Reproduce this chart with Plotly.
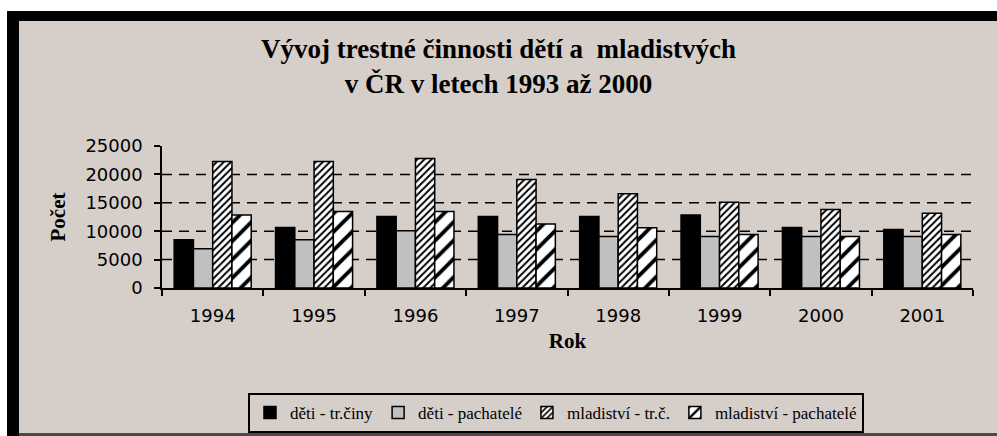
import plotly.graph_objects as go

years = ["1994", "1995", "1996", "1997", "1998", "1999", "2000", "2001"]
deti_trciny = [8500, 10650, 12600, 12600, 12600, 12850, 10650, 10300]
deti_pachatele = [6900, 8500, 10100, 9400, 9050, 9050, 9050, 9050]
mladistvi_trc = [22250, 22250, 22800, 19100, 16600, 15100, 13800, 13150]
mladistvi_pachatele = [12850, 13450, 13450, 11250, 10600, 9400, 9050, 9400]

series_names = ["děti - tr.činy", "děti - pachatelé", "mladiství - tr.č.", "mladiství - pachatelé"]
y_ticks = [0, 5000, 10000, 15000, 20000, 25000]
grid_vals = [5000, 10000, 15000, 20000]

W, H = 997, 436
L, R, T, B = 162, 24, 146, 148
PW, PH = W - L - R, H - T - B


def px(x):
    return (x - L) / PW


def py(y):
    return (H - B - y) / PH


BG = "#D6CEC9"
fig = go.Figure()

fig.add_trace(go.Bar(x=years, y=deti_trciny, name=series_names[0],
                     marker=dict(color="black", line=dict(color="black", width=1.5))))
fig.add_trace(go.Bar(x=years, y=deti_pachatele, name=series_names[1],
                     marker=dict(color="#C0C0C0", line=dict(color="black", width=1.5))))
fig.add_trace(go.Bar(x=years, y=mladistvi_trc, name=series_names[2],
                     marker=dict(color="white", line=dict(color="black", width=1.5),
                                 pattern=dict(shape="/", fgcolor="black", bgcolor="white",
                                              size=5, solidity=0.4, fillmode="replace"))))
fig.add_trace(go.Bar(x=years, y=mladistvi_pachatele, name=series_names[3],
                     marker=dict(color="white", line=dict(color="black", width=1.5),
                                 pattern=dict(shape="/", fgcolor="black", bgcolor="white",
                                              size=13, solidity=0.3, fillmode="replace"))))

shapes = [
    dict(type="rect", xref="paper", yref="paper", x0=px(7), x1=px(1005), y0=py(440), y1=py(11),
         fillcolor="black", line=dict(width=0), layer="below"),
    dict(type="rect", xref="paper", yref="paper", x0=px(19), x1=px(1005), y0=py(433), y1=py(21),
         fillcolor=BG, line=dict(width=0), layer="below"),
    dict(type="rect", xref="paper", yref="paper", x0=px(19), x1=px(1005), y0=py(440), y1=py(433),
         fillcolor="#4a4a4a", line=dict(width=0), layer="below"),
]
for v in grid_vals:
    shapes.append(dict(type="line", xref="paper", yref="y", x0=0, x1=1, y0=v, y1=v,
                       line=dict(color="black", width=1.5, dash="10px,7px"), layer="below"))

fig.update_layout(
    width=W, height=H,
    margin=dict(l=L, r=R, t=T, b=B, autoexpand=False),
    paper_bgcolor="white",
    plot_bgcolor="white",
    barmode="group",
    bargap=0.24,
    bargroupgap=0,
    shapes=shapes,
    title=dict(
        text="Vývoj trestné činnosti dětí a  mladistvých<br>v ČR v letech 1993 až 2000",
        font=dict(family="Liberation Serif", size=27, color="black", weight="bold"),
        x=0.5, xref="container", xanchor="center",
        y=1 - 58 / H, yref="container", yanchor="top",
    ),
    xaxis=dict(
        type="category",
        showline=True, linecolor="black", linewidth=1.5,
        ticks="outside", tickson="boundaries", ticklen=6, tickcolor="black", tickwidth=1.5,
        tickfont=dict(family="DejaVu Sans", size=18, color="black"),
        ticklabelstandoff=11,
        showgrid=False,
        title=dict(text="<b>Rok</b>", font=dict(family="Liberation Serif", size=21, color="black"),
                   standoff=8),
    ),
    yaxis=dict(
        range=[0, 25000],
        tickvals=y_ticks, tickformat="d",
        showline=True, linecolor="black", linewidth=1.5,
        ticks="outside", ticklen=6, tickcolor="black", tickwidth=1.5,
        tickfont=dict(family="DejaVu Sans", size=18, color="black"),
        ticklabelstandoff=8,
        showgrid=False, zeroline=False,
        title=dict(text="<b>Počet</b>", font=dict(family="Liberation Serif", size=21, color="black"),
                   standoff=14),
    ),
    legend=dict(
        orientation="h",
        x=px(556), xanchor="center",
        y=py(393), yanchor="top",
        bgcolor=BG, bordercolor="black", borderwidth=2,
        font=dict(family="Liberation Serif", size=17, color="black"),
        itemwidth=30,
        traceorder="normal",
    ),
)

fig.write_html("out.html",
               config={"displayModeBar": False},
               post_script="document.body.style.margin='0';document.body.style.overflow='hidden';")
